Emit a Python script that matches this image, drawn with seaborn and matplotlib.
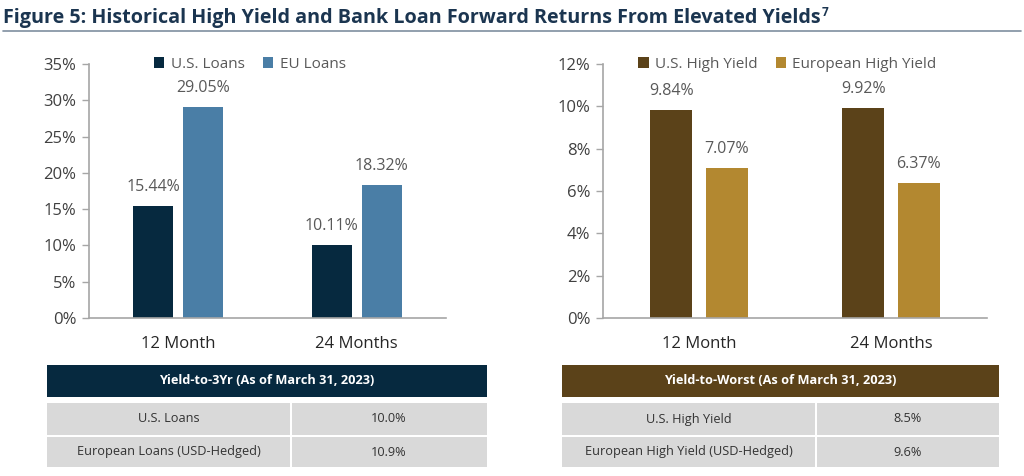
import matplotlib
matplotlib.use("Agg")
import matplotlib.pyplot as plt
from matplotlib.patches import Rectangle
from matplotlib.lines import Line2D
import seaborn as sns
import pandas as pd

sns.set_theme(style="white")
plt.rcParams['font.family'] = ['Open Sans', 'DejaVu Sans']

# ---- data ----
periods = ["12 Month", "24 Months"]
loan_series = ["U.S. Loans", "EU Loans"]
us_loans = [15.44, 10.11]
eu_loans = [29.05, 18.32]
hy_series = ["U.S. High Yield", "European High Yield"]
us_hy = [9.84, 9.92]
eu_hy = [7.07, 6.37]

loan_table_title = "Yield-to-3Yr (As of March 31, 2023)"
loan_table_rows = ["U.S. Loans", "European Loans (USD-Hedged)"]
loan_table_vals = ["10.0%", "10.9%"]
hy_table_title = "Yield-to-Worst (As of March 31, 2023)"
hy_table_rows = ["U.S. High Yield", "European High Yield (USD-Hedged)"]
hy_table_vals = ["8.5%", "9.6%"]

title = "Figure 5: Historical High Yield and Bank Loan Forward Returns From Elevated Yields"
title_note = "7"

loan_colors = ["#06293f", "#4a7ea6"]
hy_colors = ["#5b4219", "#b38830"]

W, H = 1024, 476
fig = plt.figure(figsize=(W / 100, H / 100), dpi=100)


def fx(px):
    return px / W


def fy(py):
    return 1 - py / H


def make_df(series, a, b):
    rows = []
    for p, v in zip(periods, a):
        rows.append({"period": p, "series": series[0], "value": v})
    for p, v in zip(periods, b):
        rows.append({"period": p, "series": series[1], "value": v})
    return pd.DataFrame(rows)


def draw_chart(rect, df, series, colors, ymax, ystep, width, gap, leg_x):
    ax = fig.add_axes(rect)
    sns.barplot(data=df, x="period", y="value", hue="series", hue_order=series,
                palette=colors, width=width, gap=gap, ax=ax, saturation=1,
                edgecolor="none", linewidth=0, errorbar=None, legend=True)
    ax.set_xlim(-0.5, 1.5)
    ax.set_ylim(0, ymax)
    ax.set_yticks(range(0, ymax + 1, ystep))
    ax.set_yticklabels([f"{t}%" for t in range(0, ymax + 1, ystep)],
                       fontsize=12, color="#404040")
    ax.set_xticks([0, 1])
    ax.set_xticklabels(periods, fontsize=12, color="#262626")
    ax.set_xticks([-0.5, 0.5, 1.5], minor=True)
    ax.tick_params(axis="x", which="major", length=0, pad=13)
    ax.tick_params(axis="x", which="minor", length=5, width=1, color="#a6a6a6", direction="out")
    ax.tick_params(axis="y", length=5, width=1, color="#a6a6a6", direction="out", pad=4, left=True)
    ax.set_xlabel("")
    ax.set_ylabel("")
    for s in ["top", "right"]:
        ax.spines[s].set_visible(False)
    for s in ["left", "bottom"]:
        ax.spines[s].set_color("#a6a6a6")
        ax.spines[s].set_linewidth(1.2)
    for c in ax.containers:
        ax.bar_label(c, fmt="%.2f%%", padding=8, fontsize=11.5, color="#595959")
    handles, labels = ax.get_legend_handles_labels()
    ax.legend(handles, labels, loc="center", bbox_to_anchor=(leg_x, 1.0), ncol=2,
              frameon=False, fontsize=11, handlelength=0.7, handleheight=0.7,
              handletextpad=0.4, columnspacing=1.2, labelcolor="#595959")
    ax.patch.set_alpha(0)
    return ax


bottom = fy(318)
height = fy(64) - fy(318)
draw_chart([fx(89), bottom, fx(446) - fx(89), height],
           make_df(loan_series, us_loans, eu_loans), loan_series, loan_colors,
           35, 5, 0.56, 0.2, 0.45)
draw_chart([fx(603), bottom, fx(987) - fx(603), height],
           make_df(hy_series, us_hy, eu_hy), hy_series, hy_colors,
           12, 2, 0.58, 0.25, 0.48)

# title and rule
t = fig.text(fx(3), fy(18), title, fontsize=14.2, fontweight="bold", color="#1b3550",
             va="center", ha="left")
fig.canvas.draw()
bb = t.get_window_extent()
fig.text(bb.x1 / W + fx(1), fy(12), title_note, fontsize=8.5, fontweight="bold",
         color="#1b3550", va="center", ha="left")
fig.add_artist(Line2D([fx(3), fx(1021)], [fy(31), fy(31)], color="#7f8fa0", lw=1.2))


def draw_table(x0, x1, xs, header, rows, vals, hcolor):
    fig.add_artist(Rectangle((fx(x0), fy(397)), fx(x1) - fx(x0), fy(365) - fy(397),
                             transform=fig.transFigure, facecolor=hcolor, edgecolor="none"))
    fig.text(fx((x0 + x1) / 2), fy(381), header, fontsize=9.2, fontweight="bold",
             color="white", ha="center", va="center")
    row_y = [(403, 435), (437, 467)]
    for (ya, yb), r, v in zip(row_y, rows, vals):
        fig.add_artist(Rectangle((fx(x0), fy(yb)), fx(xs - 1) - fx(x0), fy(ya) - fy(yb),
                                 transform=fig.transFigure, facecolor="#d9d9d9", edgecolor="none"))
        fig.add_artist(Rectangle((fx(xs + 1), fy(yb)), fx(x1) - fx(xs + 1), fy(ya) - fy(yb),
                                 transform=fig.transFigure, facecolor="#d9d9d9", edgecolor="none"))
        fig.text(fx((x0 + xs) / 2), fy((ya + yb) / 2), r, fontsize=9.2, color="#333333",
                 ha="center", va="center")
        fig.text(fx((xs + x1) / 2), fy((ya + yb) / 2), v, fontsize=9.2, color="#333333",
                 ha="center", va="center")


draw_table(47, 487, 291, loan_table_title, loan_table_rows, loan_table_vals, "#06293f")
draw_table(562, 999, 816, hy_table_title, hy_table_rows, hy_table_vals, "#5b4219")

fig.savefig("out.png", dpi=100, facecolor="white")
